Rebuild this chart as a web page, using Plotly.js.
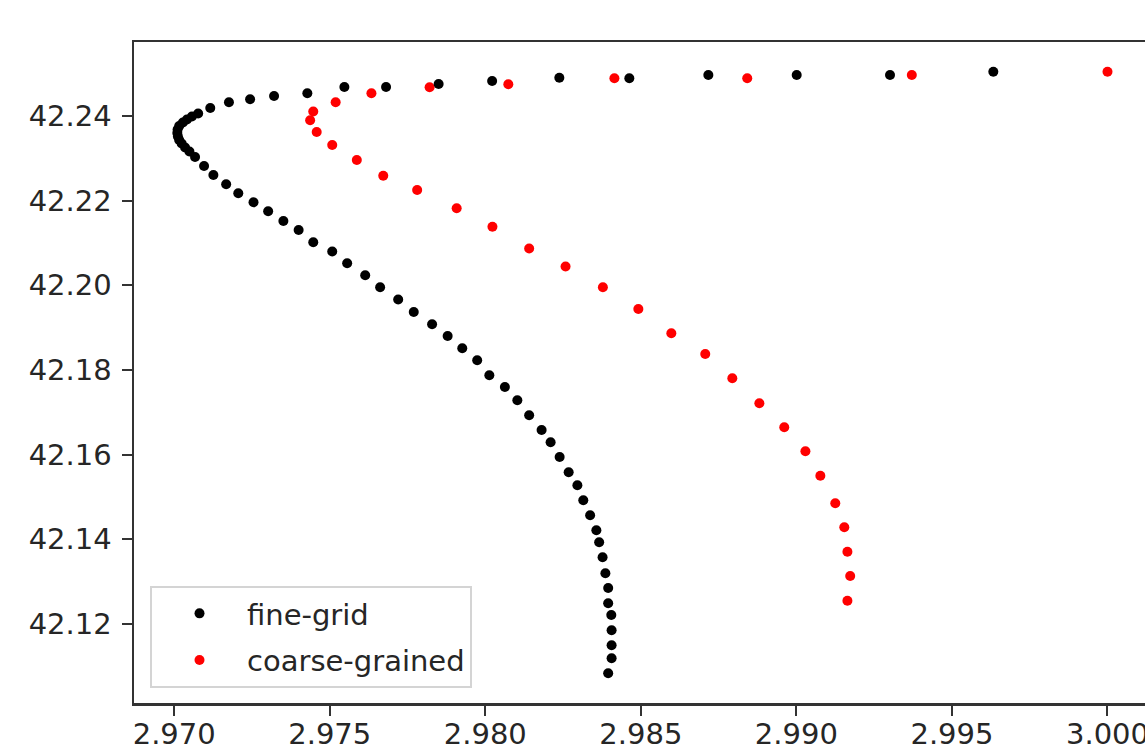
<!DOCTYPE html>
<html>
<head>
<meta charset="utf-8">
<script src="https://cdn.plot.ly/plotly-3.0.1.min.js"></script>
<style>
html,body{margin:0;padding:0;overflow:hidden;background:#fff;}
#chart{width:1164px;height:749px;}
</style>
</head>
<body>
<div id="chart"></div>
<script>
// fine-grid series
const fineX = [2.99633,2.99301,2.99001,2.98717,2.98463,2.98238,2.98022,2.97850,2.97681,2.97547,2.97428,
  2.97321,2.97244,2.97176,2.97116,2.97077,2.97057,2.97041,2.97028,2.97016,2.97011,2.97010,2.97012,2.97016,
  2.97024,2.97035,2.97049,2.97067,2.97096,2.97126,2.97167,2.97206,2.97255,2.97302,2.97351,2.97400,2.97447,
  2.97508,2.97556,2.97614,2.97662,2.97720,2.97770,2.97829,2.97879,2.97926,2.97974,2.98013,2.98063,2.98103,
  2.98141,2.98181,2.98210,2.98239,2.98268,2.98296,2.98315,2.98337,2.98357,2.98366,2.98377,2.98386,2.98395,
  2.98395,2.98405,2.98406,2.98406,2.98406,2.98395];
const fineY = [42.25046,42.24968,42.24968,42.24968,42.24891,42.24905,42.24827,42.24756,42.24685,42.24685,42.24536,
  42.24472,42.24397,42.24326,42.24189,42.24059,42.23988,42.23917,42.23846,42.23764,42.23681,42.23598,42.23516,42.23433,
  42.23350,42.23256,42.23161,42.23032,42.22819,42.22606,42.22389,42.22174,42.21961,42.21749,42.21520,42.21307,42.21017,
  42.20799,42.20521,42.20240,42.19954,42.19666,42.19370,42.19080,42.18803,42.18515,42.18232,42.17875,42.17599,42.17284,
  42.16930,42.16583,42.16292,42.15945,42.15586,42.15279,42.14925,42.14568,42.14214,42.13930,42.13578,42.13200,42.12851,
  42.12489,42.12213,42.11852,42.11497,42.11190,42.10836];

// coarse-grained series
const coarseX = [3.00000,2.99371,2.98842,2.98415,2.98074,2.97821,2.97634,2.97519,2.97447,2.97437,2.97458,
  2.97508,2.97587,2.97672,2.97781,2.97908,2.98023,2.98141,2.98258,2.98378,2.98492,2.98598,2.98707,2.98794,
  2.98881,2.98961,2.99029,2.99077,2.99125,2.99154,2.99164,2.99173,2.99164];
const coarseY = [42.25046,42.24968,42.24891,42.24891,42.24749,42.24678,42.24536,42.24324,42.24106,42.23898,42.23622,
  42.23315,42.22961,42.22590,42.22252,42.21820,42.21385,42.20870,42.20445,42.19954,42.19441,42.18867,42.18378,42.17804,
  42.17214,42.16647,42.16080,42.15504,42.14852,42.14285,42.13708,42.13134,42.12551];

const seriesNames = ["fine-grid", "coarse-grained"];

const fontFam = "DejaVu Sans, Liberation Sans, sans-serif";
const textCol = "#262626";

const traces = [
  {x: coarseX, y: coarseY, type: "scatter", mode: "markers", name: seriesNames[1], legendgroup: "b", legendrank: 2,
   marker: {color: "#ff0000", size: 10}},
  {x: fineX, y: fineY, type: "scatter", mode: "markers", name: seriesNames[0], legendgroup: "a", legendrank: 1,
   marker: {color: "#000000", size: 10}}
];

const axisCommon = {
  showgrid: false, zeroline: false, showline: true, linecolor: "#333333", linewidth: 2.5,
  mirror: true, ticks: "outside", ticklen: 10, tickwidth: 2, tickcolor: "#333333",
  tickfont: {family: fontFam, size: 29, color: textCol}
};

const layout = {
  width: 1164, height: 749,
  margin: {l: 134, r: 10, t: 42, b: 46},
  paper_bgcolor: "#ffffff", plot_bgcolor: "#ffffff",
  showlegend: true,
  xaxis: Object.assign({}, axisCommon, {
    range: [2.968708, 3.001495], tick0: 2.97, dtick: 0.005, tickformat: ".3f", ticklabelstandoff: -6
  }),
  yaxis: Object.assign({}, axisCommon, {
    range: [42.10134, 42.25748], tick0: 42.12, dtick: 0.02, tickformat: ".2f", ticklabelstandoff: 4
  }),
  legend: {
    x: 0.0157, y: 0.0227, xanchor: "left", yanchor: "bottom",
    bgcolor: "#ffffff", bordercolor: "#d4d4d4", borderwidth: 2,
    font: {family: fontFam, size: 29, color: textCol},
    traceorder: "grouped", tracegroupgap: 6, itemwidth: 85
  }
};

Plotly.newPlot("chart", traces, layout, {displayModeBar: false, staticPlot: true});
</script>
</body>
</html>
